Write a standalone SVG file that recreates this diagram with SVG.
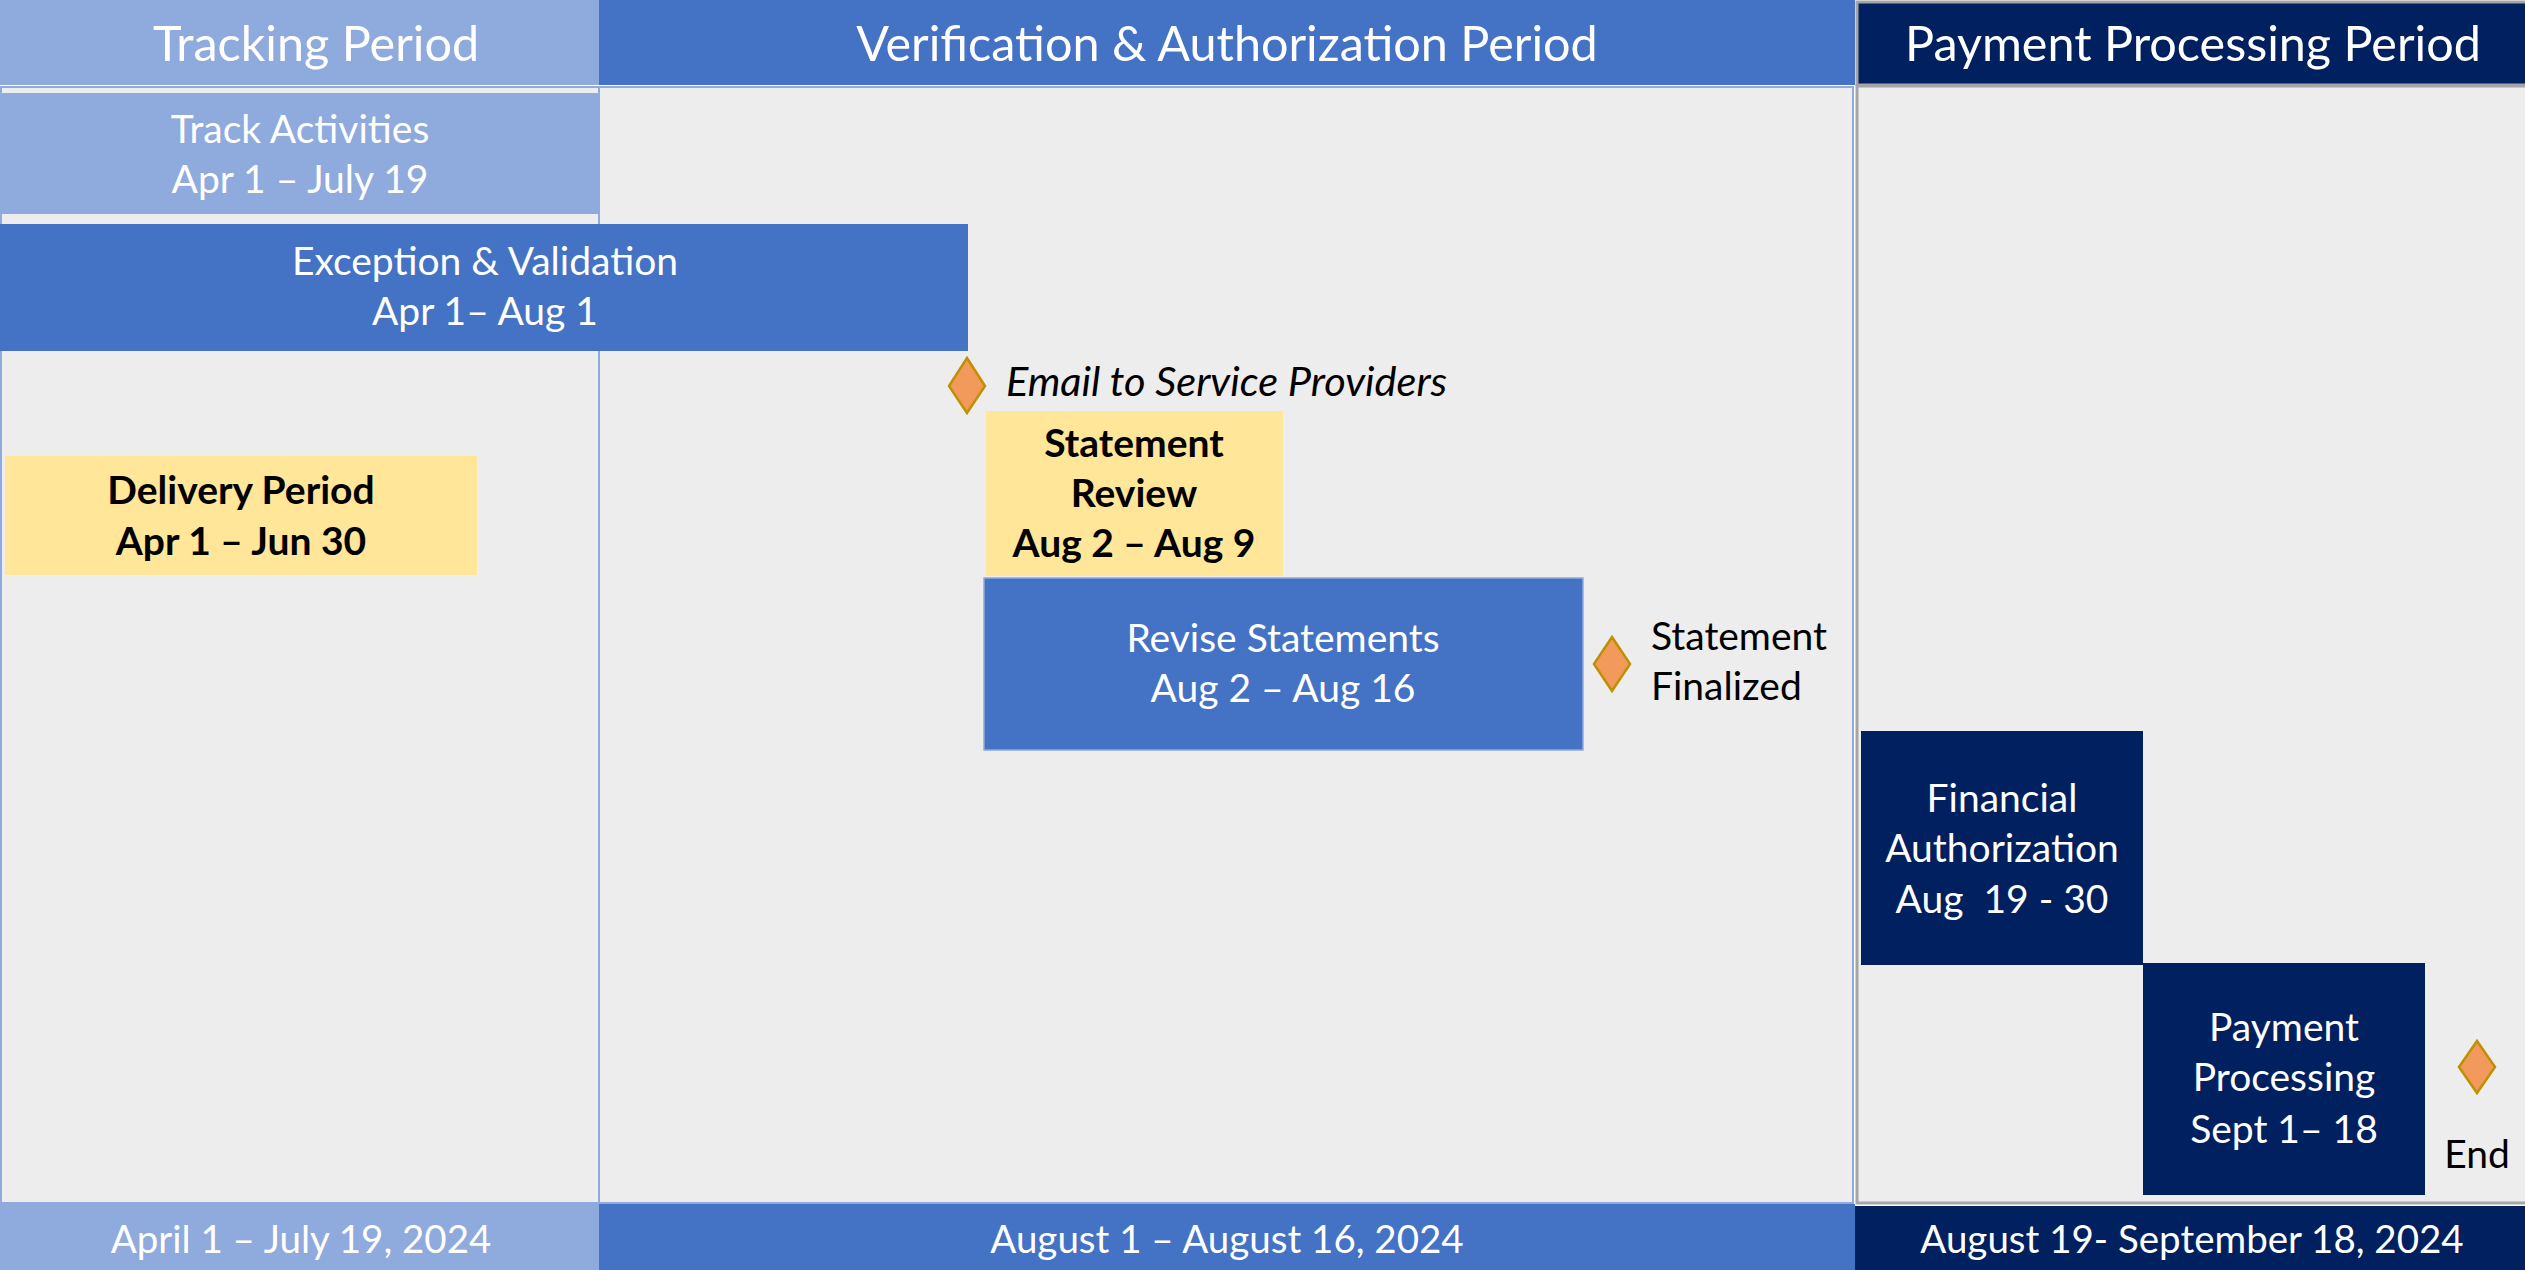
<svg xmlns="http://www.w3.org/2000/svg" width="2525" height="1270" viewBox="0 0 2525 1270">
<style>
  .t { font-family: Lato, "Liberation Sans", sans-serif; text-anchor: middle; }
  .hdr { font-size: 48.5px; fill: #ffffff; }
  .w { font-size: 39px; fill: #ffffff; }
  .f { font-size: 38.5px; fill: #ffffff; }
  .b { font-size: 39px; fill: #000000; font-weight: bold; }
  .k { font-size: 39px; fill: #000000; }
  .it { font-size: 41.5px; fill: #000000; font-style: italic; text-anchor: start; }
  .light { fill: #8FAADC; }
  .mid { fill: #4472C4; }
  .dark { fill: #002060; }
  .yel { fill: #FFE699; }
  .dia { fill: #F19A5B; stroke: #BF9000; stroke-width: 2.5; }
</style>

<g id="background">
  <rect x="0" y="0" width="2525" height="1270" fill="#ffffff"/>
  <rect id="tracking-area" x="1" y="87" width="598" height="1116" fill="#EDEDED" stroke="#8FAADC" stroke-width="2"/>
  <rect id="verification-area" x="599" y="87" width="1254" height="1116" fill="#EDEDED" stroke="#8FAADC" stroke-width="2"/>
  <rect id="payment-area" x="1857" y="86" width="670" height="1117" fill="#EDEDED" stroke="#A5A5A5" stroke-width="3"/>
</g>

<g id="header-tracking">
  <rect class="light" x="0" y="0" width="599" height="85"/>
  <text class="t hdr" x="316" y="61">Tracking Period</text>
</g>
<g id="header-verification">
  <rect class="mid" x="599" y="0" width="1256" height="85"/>
  <text class="t hdr" x="1227" y="61">Verification &amp; Authorization Period</text>
</g>
<g id="header-payment">
  <rect class="dark" x="1857" y="2" width="670" height="83" stroke="#A5A5A5" stroke-width="3"/>
  <text class="t hdr" x="2193" y="61">Payment Processing Period</text>
</g>

<g id="track-activities">
  <rect class="light" x="0" y="93" width="599" height="121"/>
  <text class="t w" x="300" y="143">Track Activities</text>
  <text class="t w" x="300" y="193">Apr 1 – July 19</text>
</g>

<g id="exception-validation">
  <rect class="mid" x="0" y="224" width="968" height="127"/>
  <text class="t w" x="485" y="275">Exception &amp; Validation</text>
  <text class="t w" x="485" y="325">Apr 1– Aug 1</text>
</g>

<g id="delivery-period">
  <rect class="yel" x="5" y="456" width="472" height="119"/>
  <text class="t b" x="241" y="504">Delivery Period</text>
  <text class="t b" x="241" y="555">Apr 1 – Jun 30</text>
</g>

<g id="email-milestone">
  <path class="dia" d="M967,358 L985,386 L967,413 L949,386 Z"/>
  <text class="t it" x="1006" y="396">Email to Service Providers</text>
</g>

<g id="statement-review">
  <rect class="yel" x="986" y="411" width="297" height="165"/>
  <text class="t b" x="1134" y="457">Statement</text>
  <text class="t b" x="1134" y="507">Review</text>
  <text class="t b" x="1134" y="557">Aug 2 – Aug 9</text>
</g>

<g id="revise-statements">
  <rect class="mid" x="984" y="578" width="599" height="172" stroke="#8FAADC" stroke-width="1.5"/>
  <text class="t w" x="1283" y="652">Revise Statements</text>
  <text class="t w" x="1283" y="702">Aug 2 – Aug 16</text>
</g>

<g id="statement-finalized">
  <path class="dia" d="M1612,637 L1630,664 L1612,691 L1594,664 Z"/>
  <text class="t k" x="1651" y="650" style="text-anchor:start">Statement</text>
  <text class="t k" x="1651" y="700" style="text-anchor:start">Finalized</text>
</g>

<g id="financial-authorization">
  <rect class="dark" x="1861" y="731" width="282" height="234"/>
  <text class="t w" x="2002" y="812">Financial</text>
  <text class="t w" x="2002" y="862">Authorization</text>
  <text class="t w" x="2002" y="913" xml:space="preserve">Aug  19 - 30</text>
</g>

<g id="payment-processing">
  <rect class="dark" x="2143" y="963" width="282" height="232"/>
  <text class="t w" x="2284" y="1041">Payment</text>
  <text class="t w" x="2284" y="1091">Processing</text>
  <text class="t w" x="2284" y="1143">Sept 1– 18</text>
</g>

<g id="end-milestone">
  <path class="dia" d="M2477,1041 L2495,1067 L2477,1093 L2459,1067 Z"/>
  <text class="t k" x="2477" y="1168">End</text>
</g>

<g id="footer-tracking">
  <rect class="light" x="0" y="1204" width="599" height="66"/>
  <text class="t f" x="301" y="1253">April 1 – July 19, 2024</text>
</g>
<g id="footer-verification">
  <rect class="mid" x="599" y="1204" width="1256" height="66"/>
  <text class="t f" x="1227" y="1253">August 1 – August 16, 2024</text>
</g>
<g id="footer-payment">
  <rect class="dark" x="1855" y="1206" width="670" height="64"/>
  <text class="t f" x="2192" y="1253">August 19- September 18, 2024</text>
</g>

<g id="connectors"></g>
</svg>
